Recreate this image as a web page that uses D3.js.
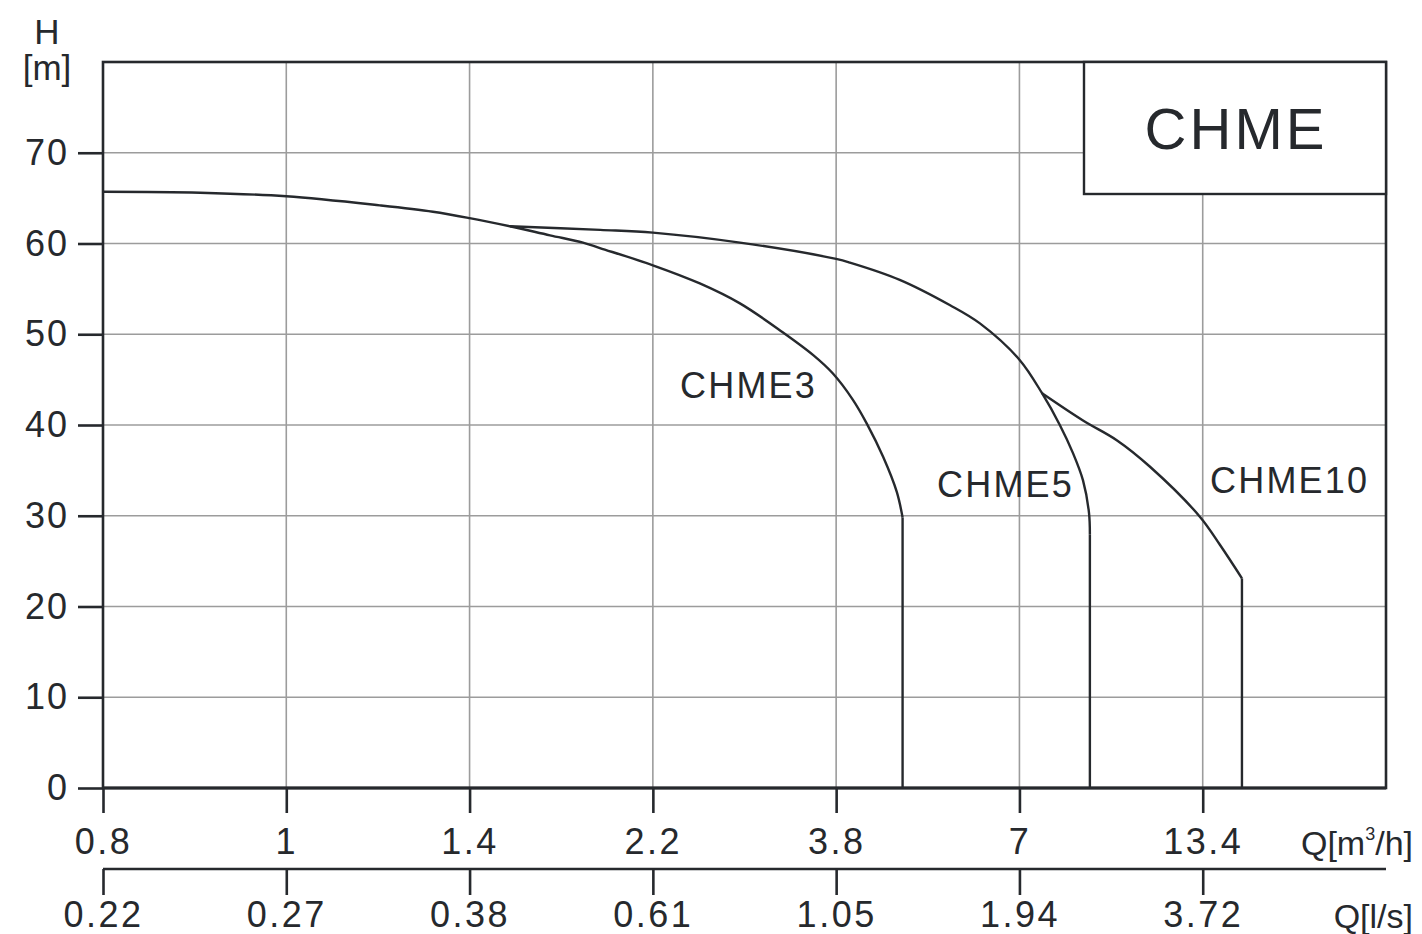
<!DOCTYPE html>
<html>
<head>
<meta charset="utf-8">
<script src="https://cdn.jsdelivr.net/npm/d3@7"></script>
<style>
  html, body { margin: 0; padding: 0; background: #ffffff; }
  svg { display: block; }
  text { font-family: "Liberation Sans", Arial, Helvetica, sans-serif; fill: #26292d; }
</style>
</head>
<body>
<svg id="chart" width="1422" height="934"></svg>
<script>
// ---- data ----
const qTicks = [0.8, 1, 1.4, 2.2, 3.8, 7, 13.4];      // Q [m3/h] tick values
const qEnd = 26.2;                                     // right edge of the Q scale
const lsLabels = ["0.22", "0.27", "0.38", "0.61", "1.05", "1.94", "3.72"]; // Q [l/s]
const hTicks = [0, 10, 20, 30, 40, 50, 60, 70];
const hMax = 80;

const chme3Q = [0.8, 0.906, 1.0, 1.204, 1.32, 1.4, 1.576, 1.751, 1.895, 1.969, 2.2, 2.61, 2.96, 3.33, 3.60, 3.77, 4.09, 4.34, 4.62, 4.86, 4.96];
const chme3H = [65.7, 65.6, 65.2, 64.2, 63.5, 62.8, 61.9, 60.9, 60.1, 59.5, 57.6, 55.6, 53.4, 50.25, 47.7, 45.7, 42.8, 40.1, 36.5, 32.6, 29.8];

const chme5Q = [1.576, 1.97, 2.2, 2.96, 3.8, 4.04, 4.91, 5.79, 6.31, 7.0, 7.79, 8.41, 8.87, 9.22, 9.43, 9.46];
const chme5H = [61.9, 61.5, 61.2, 60.1, 58.3, 57.9, 56.0, 53.2, 51.2, 47.2, 43.5, 40.0, 36.9, 33.9, 30.3, 27.9];

const chme10Q = [7.79, 9.22, 10.41, 11.56, 13.3, 14.6, 16.14];
const chme10H = [43.5, 40.5, 38.3, 35.4, 29.9, 26.8, 23.1];

const seriesNames = ["CHME3", "CHME5", "CHME10"];
const title = "CHME";

// ---- layout ----
const pLeft = 103, pRight = 1386, pTop = 62, pBottom = 788;
const ink = "#26292d", gridCol = "#9c9c9c";

const svg = d3.select("#chart");
svg.append("rect").attr("width", 1422).attr("height", 934).attr("fill", "#fff");

const qDomain = qTicks.concat([qEnd]);
const x = d3.scaleLinear()
  .domain(qDomain)
  .range(qDomain.map((d, i) => pLeft + (pRight - pLeft) * i / (qDomain.length - 1)));
const y = d3.scaleLinear().domain([0, hMax]).range([pBottom, pTop]);

// grid
const g = svg.append("g");
g.selectAll("line.h").data(hTicks.filter(d => d > 0)).join("line").attr("class", "h")
  .attr("x1", pLeft).attr("x2", pRight)
  .attr("y1", d => y(d)).attr("y2", d => y(d))
  .attr("stroke", gridCol).attr("stroke-width", 1.6);
g.selectAll("line.v").data(qTicks.slice(1)).join("line").attr("class", "v")
  .attr("x1", d => x(d)).attr("x2", d => x(d))
  .attr("y1", pTop).attr("y2", pBottom)
  .attr("stroke", gridCol).attr("stroke-width", 1.6);

// curves
const lineGen = d3.line().x(d => x(d[0])).y(d => y(d[1])).curve(d3.curveCatmullRom.alpha(0.5));
const series = [
  { q: chme3Q, h: chme3H },
  { q: chme5Q, h: chme5H },
  { q: chme10Q, h: chme10H }
];
series.forEach(s => {
  const pts = s.q.map((q, i) => [q, s.h[i]]);
  svg.append("path").attr("d", lineGen(pts))
    .attr("fill", "none").attr("stroke", ink).attr("stroke-width", 2.4)
    .attr("stroke-linejoin", "round");
  const last = pts[pts.length - 1];
  svg.append("line")
    .attr("x1", x(last[0])).attr("x2", x(last[0]))
    .attr("y1", y(last[1])).attr("y2", y(0))
    .attr("stroke", ink).attr("stroke-width", 2.4);
});

// frame
svg.append("rect").attr("x", pLeft).attr("y", pTop)
  .attr("width", pRight - pLeft).attr("height", pBottom - pTop)
  .attr("fill", "none").attr("stroke", ink).attr("stroke-width", 2.6);

// title box
svg.append("rect").attr("x", 1084).attr("y", pTop)
  .attr("width", pRight - 1084).attr("height", 194 - pTop)
  .attr("fill", "#fff").attr("stroke", ink).attr("stroke-width", 2.4);
svg.append("text").attr("x", 1236).attr("y", 149)
  .attr("text-anchor", "middle").attr("font-size", 58).attr("letter-spacing", 3)
  .text(title);

// series labels
const labelPos = [[680, 398], [937, 497], [1210, 493]];
seriesNames.forEach((n, i) => {
  svg.append("text").attr("x", labelPos[i][0]).attr("y", labelPos[i][1])
    .attr("font-size", 36).attr("letter-spacing", 2.2).text(n);
});

// y axis
const yAxis = svg.append("g").attr("transform", `translate(${pLeft},0)`)
  .call(d3.axisLeft(y).tickValues(hTicks).tickSize(25).tickPadding(9).tickFormat(d3.format("d")));
yAxis.select(".domain").remove();
yAxis.selectAll(".tick line").attr("stroke", ink).attr("stroke-width", 2.6);
yAxis.selectAll(".tick text").attr("font-size", 36).attr("letter-spacing", 2)
  .attr("font-family", '"Liberation Sans", Arial, sans-serif').attr("fill", ink);

// x axis 1 (m3/h)
const xAxis1 = svg.append("g").attr("transform", `translate(0,${pBottom})`)
  .call(d3.axisBottom(x).tickValues(qTicks).tickSize(25).tickPadding(15).tickFormat(d => String(d)));
xAxis1.select(".domain").attr("stroke", ink).attr("stroke-width", 3)
  .attr("d", `M${pLeft},0H${pRight}`);
xAxis1.selectAll(".tick line").attr("stroke", ink).attr("stroke-width", 2.6);
xAxis1.selectAll(".tick text").attr("font-size", 36).attr("letter-spacing", 2.5)
  .attr("font-family", '"Liberation Sans", Arial, sans-serif').attr("fill", ink);

// x axis 2 (l/s)
const axis2Y = 869;
const xAxis2 = svg.append("g").attr("transform", `translate(0,${axis2Y})`)
  .call(d3.axisBottom(x).tickValues(qTicks).tickSize(26).tickPadding(6).tickFormat((d, i) => lsLabels[i]));
xAxis2.select(".domain").attr("stroke", ink).attr("stroke-width", 2.6)
  .attr("d", `M${pLeft},0H${pRight}`);
xAxis2.selectAll(".tick line").attr("stroke", ink).attr("stroke-width", 2.6);
xAxis2.selectAll(".tick text").attr("font-size", 36).attr("letter-spacing", 2.5)
  .attr("font-family", '"Liberation Sans", Arial, sans-serif').attr("fill", ink);

// axis titles
svg.append("text").attr("x", 47).attr("y", 44).attr("font-size", 35).attr("text-anchor", "middle").text("H");
svg.append("text").attr("x", 47).attr("y", 80).attr("font-size", 35).attr("text-anchor", "middle").text("[m]");

const qT = svg.append("text").attr("x", 1413).attr("y", 855).attr("font-size", 34).attr("text-anchor", "end");
qT.append("tspan").text("Q[m");
qT.append("tspan").attr("font-size", 18).attr("dy", -15).text("3");
qT.append("tspan").attr("dy", 15).text("/h]");

svg.append("text").attr("x", 1413).attr("y", 928).attr("font-size", 34).attr("text-anchor", "end").text("Q[l/s]");
</script>
</body>
</html>
